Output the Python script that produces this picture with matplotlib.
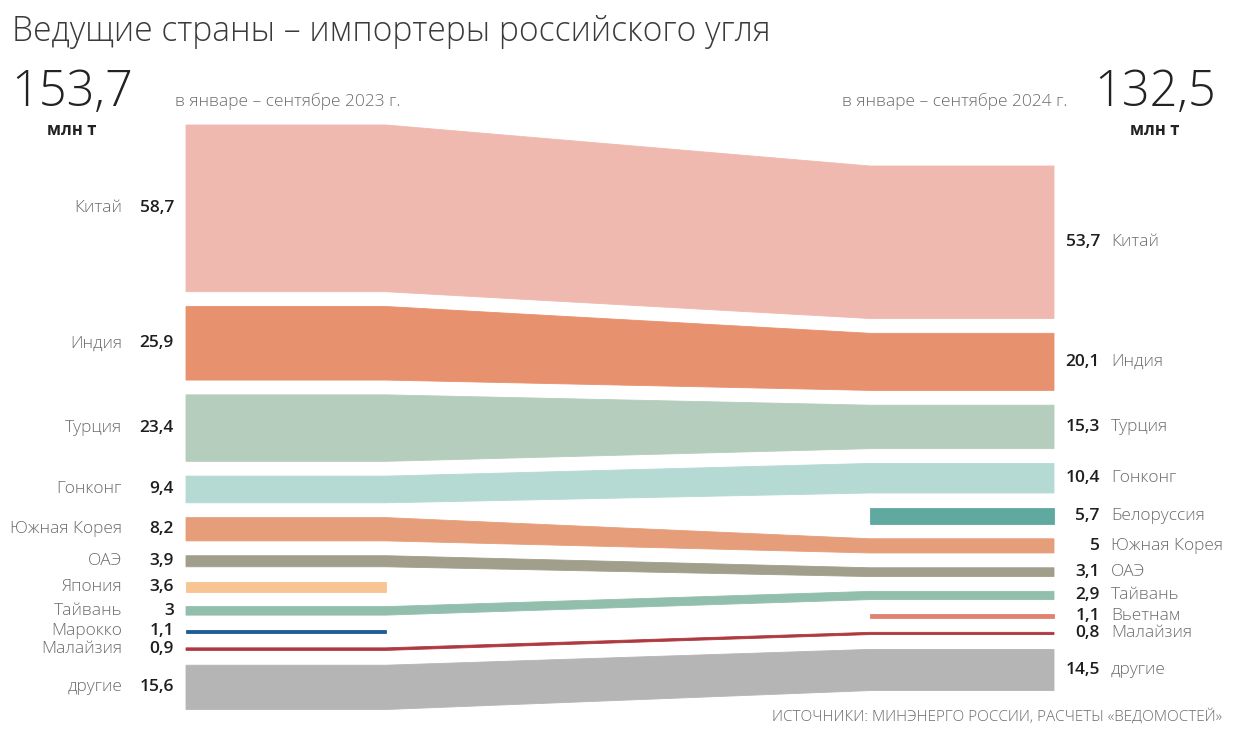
"""Ведущие страны – импортеры российского угля (slope/flow chart)."""

import matplotlib
matplotlib.use("Agg")
import matplotlib.pyplot as plt
from matplotlib.patches import Polygon

plt.rcParams["font.family"] = ["Open Sans", "DejaVu Sans"]

# ── data ──────────────────────────────────────────────────────────────────────
left_names = ["Китай", "Индия", "Турция", "Гонконг", "Южная Корея", "ОАЭ",
              "Япония", "Тайвань", "Марокко", "Малайзия", "другие"]
left_values = [58.7, 25.9, 23.4, 9.4, 8.2, 3.9, 3.6, 3.0, 1.1, 0.9, 15.6]
left_labels = ["58,7", "25,9", "23,4", "9,4", "8,2", "3,9", "3,6", "3", "1,1", "0,9", "15,6"]

right_names = ["Китай", "Индия", "Турция", "Гонконг", "Белоруссия", "Южная Корея",
               "ОАЭ", "Тайвань", "Вьетнам", "Малайзия", "другие"]
right_values = [53.7, 20.1, 15.3, 10.4, 5.7, 5.0, 3.1, 2.9, 1.1, 0.8, 14.5]
right_labels = ["53,7", "20,1", "15,3", "10,4", "5,7", "5", "3,1", "2,9", "1,1", "0,8", "14,5"]

total_2023 = "153,7"
total_2024 = "132,5"

colors = {
    "Китай": "#efb9af", "Индия": "#e8916f", "Турция": "#b5cdbc",
    "Гонконг": "#b5d9d3", "Белоруссия": "#5fa9a1", "Южная Корея": "#e59e79",
    "ОАЭ": "#a19f8b", "Япония": "#f6c591", "Тайвань": "#92bfad",
    "Марокко": "#1f5c96", "Вьетнам": "#e08470", "Малайзия": "#ae3a40",
    "другие": "#b5b5b5",
}

# ── layout (pixel space) ──────────────────────────────────────────────────────
W, H = 1242, 733
SCALE = 2.84          # px per mln t
GAP = 14.8            # px between bands
LEFT_TOP, RIGHT_TOP = 125, 166
LX0, LX1 = 186, 386   # 2023 column
RX0, RX1 = 870, 1054  # 2024 column


def stack(values, top):
    spans, y = [], top
    for v in values:
        h = v * SCALE
        spans.append((y, y + h))
        y += h + GAP
    return spans


left_spans = dict(zip(left_names, stack(left_values, LEFT_TOP)))
right_spans = dict(zip(right_names, stack(right_values, RIGHT_TOP)))

fig = plt.figure(figsize=(W / 100, H / 100), dpi=100)
ax = fig.add_axes([0, 0, 1, 1])
ax.set_xlim(0, W)
ax.set_ylim(H, 0)
ax.axis("off")

# ── bands ─────────────────────────────────────────────────────────────────────
for name in colors:
    L = left_spans.get(name)
    R = right_spans.get(name)
    c = colors[name]
    if L and R:
        pts = [(LX0, L[0]), (LX1, L[0]), (RX0, R[0]), (RX1, R[0]),
               (RX1, R[1]), (RX0, R[1]), (LX1, L[1]), (LX0, L[1])]
    elif L:
        pts = [(LX0, L[0]), (LX1, L[0]), (LX1, L[1]), (LX0, L[1])]
    elif R:
        pts = [(RX0, R[0]), (RX1, R[0]), (RX1, R[1]), (RX0, R[1])]
    else:
        continue
    ax.add_patch(Polygon(pts, closed=True, facecolor=c, edgecolor=c, linewidth=0.6))

# ── labels ────────────────────────────────────────────────────────────────────
NAME_C, VAL_C = "#6b6b6b", "#1e1e1e"
for name, lab in zip(left_names, left_labels):
    y0, y1 = left_spans[name]
    yc = (y0 + y1) / 2
    ax.text(122, yc, name, ha="right", va="center", fontsize=12.5,
            color=NAME_C, fontweight="light")
    ax.text(174, yc, lab, ha="right", va="center", fontsize=12.5,
            color=VAL_C, fontweight="semibold")

for name, lab in zip(right_names, right_labels):
    y0, y1 = right_spans[name]
    yc = (y0 + y1) / 2
    ax.text(1100, yc, lab, ha="right", va="center", fontsize=12.5,
            color=VAL_C, fontweight="semibold")
    ax.text(1111, yc, name, ha="left", va="center", fontsize=12.5,
            color=NAME_C, fontweight="light")

# ── headings ──────────────────────────────────────────────────────────────────
ax.text(12, 32, "Ведущие страны – импортеры российского угля", ha="left",
        va="center", fontsize=24.2, color="#3a3a3a", fontweight="light")

ax.text(72, 93, total_2023, ha="center", va="center", fontsize=35,
        color="#222222", fontweight="light")
ax.text(72, 130, "млн т", ha="center", va="center", fontsize=12,
        color="#222222", fontweight="bold")
ax.text(175, 101, "в январе – сентябре 2023 г.", ha="left", va="center",
        fontsize=12.5, color="#6b6b6b", fontweight="light")

ax.text(1155, 93, total_2024, ha="center", va="center", fontsize=35,
        color="#222222", fontweight="light")
ax.text(1155, 130, "млн т", ha="center", va="center", fontsize=12,
        color="#222222", fontweight="bold")
ax.text(1068, 101, "в январе – сентябре 2024 г.", ha="right", va="center",
        fontsize=12.5, color="#6b6b6b", fontweight="light")

ax.text(1222, 717, "ИСТОЧНИКИ: МИНЭНЕРГО РОССИИ, РАСЧЕТЫ «ВЕДОМОСТЕЙ»", ha="right",
        va="center", fontsize=11, color="#6b6b6b", fontweight="light")

fig.savefig("out.png", dpi=100, facecolor="white")
plt.close(fig)
